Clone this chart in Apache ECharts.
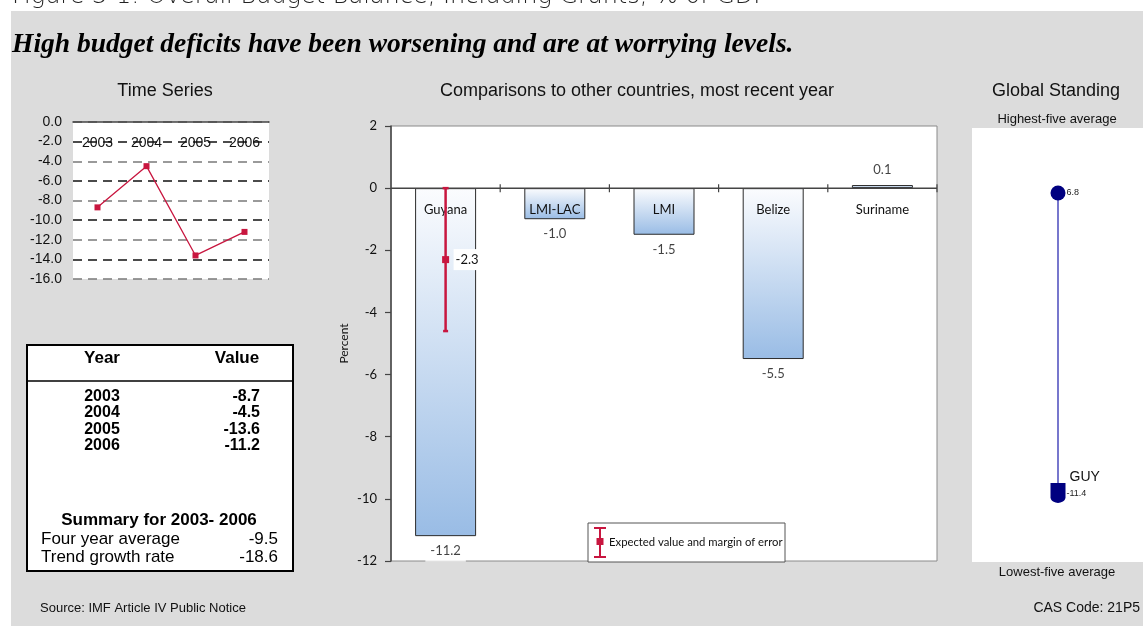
<!DOCTYPE html>
<html>
<head>
<meta charset="utf-8">
<script src="https://cdn.jsdelivr.net/npm/echarts@6/dist/echarts.min.js"></script>
<style>
  html, body { margin: 0; padding: 0; background: #ffffff; }
  #panel { position: absolute; left: 11px; top: 11px; width: 1132px; height: 615px; background: #dcdcdc; }
  #chart { position: absolute; left: 0; top: 0; width: 1143px; height: 626px; }
</style>
</head>
<body>
<div id="panel"></div>
<div id="chart"></div>
<script>
// Overall budget balance, including grants (% of GDP)
const years = ['2003', '2004', '2005', '2006'];
const balance = [-8.7, -4.5, -13.6, -11.2];

// Summary statistics shown under the yearly table
const summaryLabels = ['Four year average', 'Trend growth rate'];
const summaryValues = [-9.5, -18.6];

// Most recent year, compared with peer groups
const peers = ['Guyana', 'LMI-LAC', 'LMI', 'Belize', 'Suriname'];
const peerValues = [-11.2, -1.0, -1.5, -5.5, 0.1];

// Expected value and margin of error for Guyana
const expectedValue = [-2.3];
const marginOfError = [2.3];

// Global standing scale
const globalHigh = [6.8];
const globalGuy = [-11.4];

const RED = '#c8163f';
const NAVY = '#000080';
const SANS = '"Liberation Sans", Arial, sans-serif';
const GILL = 'Lato, "Open Sans", sans-serif';

const chart = echarts.init(document.getElementById('chart'), null, { renderer: 'canvas' });

// Yearly table text elements
const tableTop = 345, tableLeft = 27, tableW = 266, tableH = 226;
const rowY = [397, 413, 430, 446];
const tableTexts = [];
tableTexts.push({ type: 'text', x: 102, y: 358, style: { text: 'Year', font: 'bold 17px ' + SANS, fill: '#000', align: 'center', verticalAlign: 'middle' } });
tableTexts.push({ type: 'text', x: 237, y: 358, style: { text: 'Value', font: 'bold 17px ' + SANS, fill: '#000', align: 'center', verticalAlign: 'middle' } });
years.forEach((yr, i) => {
  tableTexts.push({ type: 'text', x: 102, y: rowY[i], style: { text: yr, font: 'bold 16px ' + SANS, fill: '#000', align: 'center', verticalAlign: 'middle' } });
  tableTexts.push({ type: 'text', x: 260, y: rowY[i], style: { text: balance[i].toFixed(1), font: 'bold 16px ' + SANS, fill: '#000', align: 'right', verticalAlign: 'middle' } });
});
tableTexts.push({ type: 'text', x: 159, y: 520, style: { text: 'Summary for ' + years[0] + '- ' + years[years.length - 1], font: 'bold 17px ' + SANS, fill: '#000', align: 'center', verticalAlign: 'middle' } });
summaryLabels.forEach((lab, i) => {
  tableTexts.push({ type: 'text', x: 41, y: 539 + i * 18, style: { text: lab, font: '17px ' + SANS, fill: '#000', align: 'left', verticalAlign: 'middle' } });
  tableTexts.push({ type: 'text', x: 278, y: 539 + i * 18, style: { text: summaryValues[i].toFixed(1), font: '17px ' + SANS, fill: '#000', align: 'right', verticalAlign: 'middle' } });
});

const option = {
  animation: false,
  backgroundColor: 'transparent',
  textStyle: { fontFamily: SANS },
  grid: [
    { left: 73, top: 122, width: 196, height: 157, show: true, backgroundColor: '#ffffff', borderWidth: 0 },
    { left: 391, top: 126, width: 546, height: 435, show: true, backgroundColor: '#ffffff', borderColor: '#8a8a8a', borderWidth: 1 },
    { left: 1000, top: 193, width: 116, height: 300 }
  ],
  xAxis: [
    {
      gridIndex: 0, type: 'category', data: years, position: 'top',
      axisLine: { lineStyle: { color: '#444', width: 1.5 } },
      axisTick: { inside: true, length: 4, lineStyle: { color: '#444' } },
      axisLabel: { inside: true, margin: 14, color: '#111', fontSize: 14, fontFamily: SANS },
      splitLine: { show: false }
    },
    {
      // category scale for the comparison bars; the zero line, ticks and
      // names are drawn by the custom series below
      gridIndex: 1, type: 'category', data: peers, show: false,
      axisLine: { show: false, onZero: false }, axisTick: { show: false },
      axisLabel: { show: false }, splitLine: { show: false }
    },
    { gridIndex: 2, type: 'value', min: 0, max: 2, show: false }
  ],
  yAxis: [
    {
      gridIndex: 0, type: 'value', min: -16, max: 0, interval: 2,
      axisLine: { show: false }, axisTick: { show: false },
      axisLabel: { formatter: v => v.toFixed(1), color: '#111', fontSize: 14, margin: 11, fontFamily: SANS },
      splitLine: { lineStyle: { type: [9, 6], color: ['#7a7a7a', '#111111'], width: 1.5 } }
    },
    {
      gridIndex: 1, type: 'value', min: -12, max: 2, interval: 2,
      axisLine: { show: true, onZero: false, lineStyle: { color: '#444', width: 1.5 } },
      axisTick: { show: true, length: 6, lineStyle: { color: '#444', width: 1.2 } },
      axisLabel: { color: '#111', fontSize: 13, margin: 14, fontFamily: GILL },
      splitLine: { show: false },
      name: 'Percent', nameLocation: 'middle', nameGap: 41, nameRotate: 90,
      nameTextStyle: { fontSize: 12, color: '#111', fontFamily: GILL }
    },
    { gridIndex: 2, type: 'value', min: globalGuy[0], max: globalHigh[0], show: false }
  ],
  series: [
    {
      type: 'line', xAxisIndex: 0, yAxisIndex: 0, data: balance,
      symbol: 'rect', symbolSize: 6, showAllSymbol: true,
      lineStyle: { color: RED, width: 1.3 }, itemStyle: { color: RED }
    },
    {
      type: 'bar', xAxisIndex: 1, yAxisIndex: 1, data: peerValues, barWidth: 61,
      itemStyle: {
        color: new echarts.graphic.LinearGradient(0, 0, 0, 1, [
          { offset: 0, color: '#fbfcfe' },
          { offset: 1, color: '#99bce5' }
        ]),
        borderColor: '#2b2b2b', borderWidth: 1
      }
    },
    {
      // zero line with crossing ticks at category boundaries, and the names
      type: 'custom', xAxisIndex: 1, yAxisIndex: 1, z: 10,
      data: peers.map((p, i) => [i, 0]),
      renderItem: function (params, api) {
        const i = api.value(0);
        const c = api.coord([i, 0]);
        const band = api.size([1, 0])[0];
        const left = c[0] - band / 2, right = c[0] + band / 2;
        return {
          type: 'group',
          children: [
            { type: 'line', shape: { x1: left, y1: c[1], x2: right, y2: c[1] }, style: { stroke: '#444', lineWidth: 1.5 } },
            { type: 'line', shape: { x1: right, y1: c[1] - 4, x2: right, y2: c[1] + 4 }, style: { stroke: '#444', lineWidth: 1.2 } },
            { type: 'text', x: c[0], y: c[1] + 22, style: { text: peers[i], fill: '#111', font: '13px ' + GILL, align: 'center', verticalAlign: 'middle' } }
          ]
        };
      }
    },
    {
      // value labels at the end of each bar
      type: 'scatter', xAxisIndex: 1, yAxisIndex: 1, z: 11,
      symbol: 'circle', symbolSize: 1, itemStyle: { color: 'rgba(0,0,0,0)' },
      data: peerValues.map((v, i) => ({
        value: [i, v],
        label: {
          show: true,
          position: v < 0 ? 'bottom' : 'top',
          distance: i === 0 ? 5 : 8,
          formatter: v.toFixed(1),
          color: '#111', fontSize: 13, fontFamily: GILL,
          backgroundColor: i === 0 ? '#ffffff' : 'transparent',
          padding: i === 0 ? [3, 5, 4, 5] : 0
        }
      }))
    },
    {
      type: 'custom', xAxisIndex: 1, yAxisIndex: 1, z: 12,
      data: expectedValue.map((c, i) => [i, c, marginOfError[i]]),
      renderItem: function (params, api) {
        const c = api.value(1), m = api.value(2);
        const top = api.coord([api.value(0), c + m]);
        const bot = api.coord([api.value(0), c - m]);
        const mid = api.coord([api.value(0), c]);
        const x = mid[0];
        return {
          type: 'group',
          children: [
            { type: 'line', shape: { x1: x, y1: top[1], x2: x, y2: bot[1] }, style: { stroke: RED, lineWidth: 2.5 } },
            { type: 'line', shape: { x1: x - 3, y1: top[1], x2: x + 3, y2: top[1] }, style: { stroke: RED, lineWidth: 2.5 } },
            { type: 'line', shape: { x1: x - 2.5, y1: bot[1], x2: x + 2.5, y2: bot[1] }, style: { stroke: RED, lineWidth: 2.5 } },
            { type: 'rect', shape: { x: x - 3.5, y: mid[1] - 3.5, width: 7, height: 7 }, style: { fill: RED } },
            { type: 'text', x: x + 8, y: mid[1], style: { text: c.toFixed(1), fill: '#111', font: '13px ' + GILL, verticalAlign: 'middle', backgroundColor: '#ffffff', padding: [4, 2, 4, 2] } }
          ]
        };
      }
    },
    {
      // global standing scale line
      type: 'line', xAxisIndex: 2, yAxisIndex: 2, symbol: 'none', z: 3,
      data: [[1, globalHigh[0]], [1, globalGuy[0]]],
      lineStyle: { color: '#4a4abc', width: 1.5 }
    },
    {
      type: 'scatter', xAxisIndex: 2, yAxisIndex: 2, z: 4,
      data: [
        {
          value: [1, globalHigh[0]], symbol: 'circle', symbolSize: 15,
          itemStyle: { color: NAVY, opacity: 1 },
          label: { show: true, position: 'right', distance: 1, formatter: p => p.value[1].toFixed(1), fontSize: 9, color: '#222', fontFamily: SANS }
        },
        {
          value: [1, globalGuy[0]],
          symbol: 'path://M0,0 L10,0 L10,10 C10,12.5 7,14 5,14 C3,14 0,12.5 0,10 Z',
          symbolSize: [15, 20], itemStyle: { color: NAVY, opacity: 1 },
          label: {
            show: true, position: [16, -16],
            formatter: p => '{n|GUY}\n{v|' + p.value[1].toFixed(1) + '}',
            rich: {
              n: { fontSize: 14, color: '#111', lineHeight: 20, padding: [0, 0, 0, 3], fontFamily: SANS },
              v: { fontSize: 9, color: '#222', lineHeight: 14, fontFamily: SANS }
            }
          }
        }
      ]
    }
  ],
  graphic: [
    // figure caption at the very top
    { type: 'text', x: 12, y: -3, z: 1, style: { text: 'Figure 3-1: Overall Budget Balance, Including Grants, % of GDP', font: '200 24px "DejaVu Sans", sans-serif', fill: '#222', verticalAlign: 'middle' } },
    { type: 'text', x: 12, y: 45, style: { text: 'High budget deficits have been worsening and are at worrying levels.', font: 'italic bold 27.5px "Liberation Serif", serif', fill: '#000', verticalAlign: 'middle' } },
    // panel titles
    { type: 'text', x: 165, y: 91, style: { text: 'Time Series', font: '18px ' + SANS, fill: '#111', align: 'center', verticalAlign: 'middle' } },
    { type: 'text', x: 637, y: 91, style: { text: 'Comparisons to other countries, most recent year', font: '18px ' + SANS, fill: '#111', align: 'center', verticalAlign: 'middle' } },
    { type: 'text', x: 1056, y: 91, style: { text: 'Global Standing', font: '18px ' + SANS, fill: '#111', align: 'center', verticalAlign: 'middle' } },
    // yearly table box
    { type: 'rect', z: -1, shape: { x: tableLeft, y: tableTop, width: tableW, height: tableH }, style: { fill: '#ffffff', stroke: '#000', lineWidth: 2 } },
    { type: 'line', shape: { x1: tableLeft, y1: 381, x2: tableLeft + tableW, y2: 381 }, style: { stroke: '#000', lineWidth: 1.5 } },
    ...tableTexts,
    // legend for the error bar
    { type: 'rect', shape: { x: 588, y: 523, width: 197, height: 39 }, z: 20, style: { fill: '#ffffff', stroke: '#555', lineWidth: 1 } },
    { type: 'line', z: 21, shape: { x1: 600, y1: 528, x2: 600, y2: 557 }, style: { stroke: RED, lineWidth: 2 } },
    { type: 'line', z: 21, shape: { x1: 594, y1: 528, x2: 606, y2: 528 }, style: { stroke: RED, lineWidth: 2 } },
    { type: 'line', z: 21, shape: { x1: 594, y1: 557, x2: 606, y2: 557 }, style: { stroke: RED, lineWidth: 2 } },
    { type: 'rect', z: 21, shape: { x: 596.5, y: 538, width: 7, height: 7 }, style: { fill: RED } },
    { type: 'text', z: 21, x: 609, y: 542, style: { text: 'Expected value and margin of error', font: '11.3px ' + GILL, fill: '#111', verticalAlign: 'middle' } },
    // global standing box
    { type: 'rect', z: -5, shape: { x: 972, y: 128, width: 171, height: 434 }, style: { fill: '#ffffff' } },
    { type: 'text', x: 1057, y: 119, style: { text: 'Highest-five average', font: '13px ' + SANS, fill: '#111', align: 'center', verticalAlign: 'middle' } },
    { type: 'text', x: 1057, y: 572, style: { text: 'Lowest-five average', font: '13px ' + SANS, fill: '#111', align: 'center', verticalAlign: 'middle' } },
    // footer
    { type: 'text', x: 40, y: 608, style: { text: 'Source: IMF Article IV Public Notice', font: '13px ' + SANS, fill: '#111', verticalAlign: 'middle' } },
    { type: 'text', x: 1140, y: 608, style: { text: 'CAS Code: 21P5', font: '14px ' + SANS, fill: '#111', align: 'right', verticalAlign: 'middle' } }
  ]
};

chart.setOption(option);
</script>
</body>
</html>
